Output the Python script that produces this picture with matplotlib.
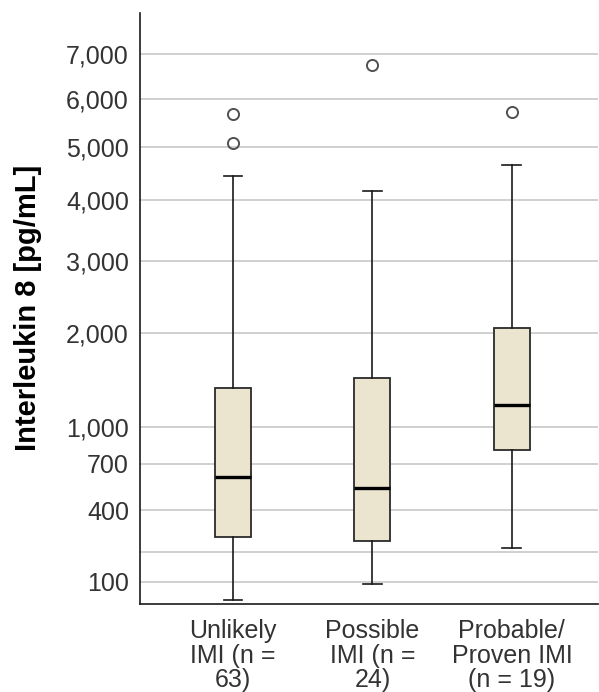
import numpy as np
import matplotlib.pyplot as plt

# values (pg/mL)
groups = ['Unlikely\nIMI (n =\n63)', 'Possible\nIMI (n =\n24)', 'Probable/\nProven IMI\n(n = 19)']
whisker_low = [56, 94, 217]
q1 = [265, 245, 805]
median = [608, 530, 1206]
q3 = [1374, 1480, 2067]
whisker_high = [4440, 4173, 4641]
outliers = [[5085, 5673], [6737], [5705]]

yticks = [100, 400, 700, 1000, 2000, 3000, 4000, 5000, 6000, 7000]
ygrid_extra = [200]

plt.rcParams['font.family'] = ['Liberation Sans', 'DejaVu Sans']

stats = []
for i in range(len(groups)):
    stats.append(dict(whislo=whisker_low[i], q1=q1[i], med=median[i], q3=q3[i],
                      whishi=whisker_high[i], fliers=outliers[i]))

fig = plt.figure(figsize=(5.99, 6.92), dpi=100)
ax = fig.add_axes([0.2337, 0.1276, 0.7646, 0.8540])
ax.set_yscale('function', functions=(lambda v: np.sqrt(np.clip(v, 0, None)), lambda v: v ** 2))

for y in yticks + ygrid_extra:
    ax.axhline(y, color='#c4c4c4', lw=1.1, zorder=0)

ax.bxp(stats, positions=range(len(groups)), widths=0.258, capwidths=0.136,
       patch_artist=True,
       boxprops=dict(facecolor='#ebe4cf', edgecolor='#2a2a2a', linewidth=1.3),
       medianprops=dict(color='black', linewidth=2.4),
       whiskerprops=dict(color='#1a1a1a', linewidth=1.2),
       capprops=dict(color='#1a1a1a', linewidth=1.2),
       flierprops=dict(marker='o', markersize=8, markerfacecolor='none',
                       markeredgecolor='#505050', markeredgewidth=1.4),
       zorder=3)

ax.set_xlim(-0.667, 2.617)
ax.set_ylim(48, 8000)
ax.set_yticks(yticks)
ax.set_yticklabels(['{:,}'.format(v) for v in yticks])
ax.set_xticks(range(len(groups)))
ax.set_xticklabels(groups, linespacing=1.03)
ax.tick_params(axis='both', length=0, labelsize=18, colors='#333333')
ax.tick_params(axis='y', pad=8)
ax.tick_params(axis='x', pad=11)
ax.minorticks_off()

for s in ['top', 'right']:
    ax.spines[s].set_visible(False)
for s in ['left', 'bottom']:
    ax.spines[s].set_color('#1a1a1a')
    ax.spines[s].set_linewidth(1.2)

ax.set_ylabel('Interleukin 8 [pg/mL]', fontsize=21, fontweight='bold', labelpad=17)

fig.savefig('out.png', dpi=100)
